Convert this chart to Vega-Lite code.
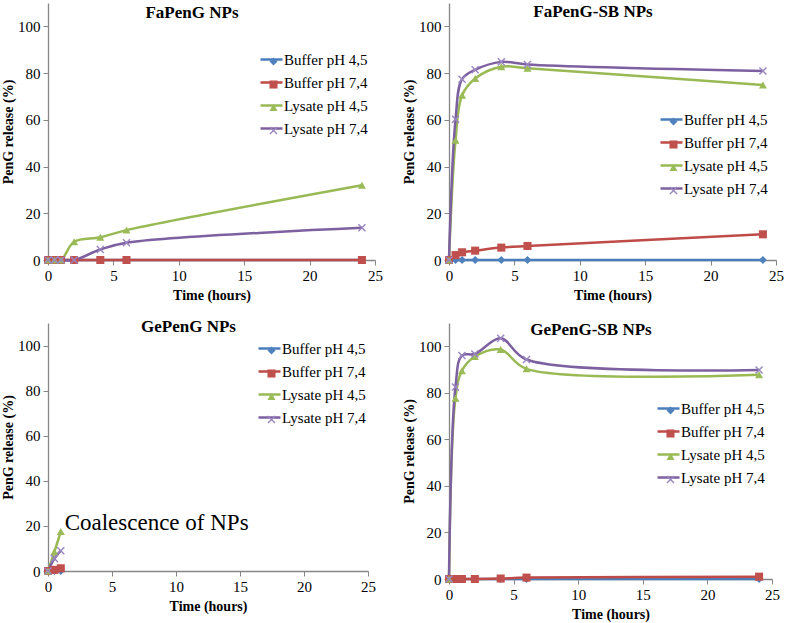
{
  "$schema": "https://vega.github.io/schema/vega-lite/v6.json",
  "padding": {"left": 1, "top": 3, "right": 0, "bottom": 1},
  "background": "white",
  "config": {
    "font": "Liberation Serif",
    "view": {"stroke": null},
    "axis": {"grid": false, "domainColor": "#868686", "tickColor": "#868686", "domainWidth": 1.3, "tickSize": 5,
      "labelFont": "Liberation Serif", "labelFontSize": 15, "labelColor": "#000", "labelPadding": 3,
      "titleFont": "Liberation Serif", "titleFontSize": 14, "titleFontWeight": "bold", "titleColor": "#000"},
    "axisY": {"titlePadding": 2, "labelFlush": false},
    "axisX": {"titlePadding": 5, "labelFlush": false},
    "title": {"font": "Liberation Serif", "fontSize": 17, "fontWeight": "bold", "color": "#000", "frame": "bounds", "anchor": "middle"},
    "legend": {"padding": 0, "labelFont": "Liberation Serif", "labelFontSize": 15, "labelColor": "#000", "title": null, "orient": "none", "labelOffset": 0}
  },
  "data": {"values": [
    {"panel": "FaPenG NPs", "series": "Buffer pH 4,5", "t": 0, "v": 0},
    {"panel": "FaPenG NPs", "series": "Buffer pH 4,5", "t": 0.5, "v": 0},
    {"panel": "FaPenG NPs", "series": "Buffer pH 4,5", "t": 1, "v": 0},
    {"panel": "FaPenG NPs", "series": "Buffer pH 4,5", "t": 2, "v": 0},
    {"panel": "FaPenG NPs", "series": "Buffer pH 4,5", "t": 4, "v": 0},
    {"panel": "FaPenG NPs", "series": "Buffer pH 4,5", "t": 6, "v": 0},
    {"panel": "FaPenG NPs", "series": "Buffer pH 4,5", "t": 24, "v": 0},
    {"panel": "FaPenG NPs", "series": "Buffer pH 7,4", "t": 0, "v": 0},
    {"panel": "FaPenG NPs", "series": "Buffer pH 7,4", "t": 0.5, "v": 0},
    {"panel": "FaPenG NPs", "series": "Buffer pH 7,4", "t": 1, "v": 0},
    {"panel": "FaPenG NPs", "series": "Buffer pH 7,4", "t": 2, "v": 0},
    {"panel": "FaPenG NPs", "series": "Buffer pH 7,4", "t": 4, "v": 0},
    {"panel": "FaPenG NPs", "series": "Buffer pH 7,4", "t": 6, "v": 0},
    {"panel": "FaPenG NPs", "series": "Buffer pH 7,4", "t": 24, "v": 0},
    {"panel": "FaPenG NPs", "series": "Lysate pH 4,5", "t": 0, "v": 0},
    {"panel": "FaPenG NPs", "series": "Lysate pH 4,5", "t": 0.5, "v": 0},
    {"panel": "FaPenG NPs", "series": "Lysate pH 4,5", "t": 1, "v": 0},
    {"panel": "FaPenG NPs", "series": "Lysate pH 4,5", "t": 2, "v": 7.8},
    {"panel": "FaPenG NPs", "series": "Lysate pH 4,5", "t": 4, "v": 9.7},
    {"panel": "FaPenG NPs", "series": "Lysate pH 4,5", "t": 6, "v": 12.8},
    {"panel": "FaPenG NPs", "series": "Lysate pH 4,5", "t": 24, "v": 32},
    {"panel": "FaPenG NPs", "series": "Lysate pH 7,4", "t": 0, "v": 0},
    {"panel": "FaPenG NPs", "series": "Lysate pH 7,4", "t": 0.5, "v": 0},
    {"panel": "FaPenG NPs", "series": "Lysate pH 7,4", "t": 1, "v": 0},
    {"panel": "FaPenG NPs", "series": "Lysate pH 7,4", "t": 2, "v": 0},
    {"panel": "FaPenG NPs", "series": "Lysate pH 7,4", "t": 4, "v": 4.5},
    {"panel": "FaPenG NPs", "series": "Lysate pH 7,4", "t": 6, "v": 7.4},
    {"panel": "FaPenG NPs", "series": "Lysate pH 7,4", "t": 24, "v": 13.8},

    {"panel": "FaPenG-SB NPs", "series": "Buffer pH 4,5", "t": 0, "v": 0},
    {"panel": "FaPenG-SB NPs", "series": "Buffer pH 4,5", "t": 0.5, "v": 0},
    {"panel": "FaPenG-SB NPs", "series": "Buffer pH 4,5", "t": 1, "v": 0},
    {"panel": "FaPenG-SB NPs", "series": "Buffer pH 4,5", "t": 2, "v": 0},
    {"panel": "FaPenG-SB NPs", "series": "Buffer pH 4,5", "t": 4, "v": 0},
    {"panel": "FaPenG-SB NPs", "series": "Buffer pH 4,5", "t": 6, "v": 0},
    {"panel": "FaPenG-SB NPs", "series": "Buffer pH 4,5", "t": 24, "v": 0},
    {"panel": "FaPenG-SB NPs", "series": "Buffer pH 7,4", "t": 0, "v": 0},
    {"panel": "FaPenG-SB NPs", "series": "Buffer pH 7,4", "t": 0.5, "v": 2.1},
    {"panel": "FaPenG-SB NPs", "series": "Buffer pH 7,4", "t": 1, "v": 3.3},
    {"panel": "FaPenG-SB NPs", "series": "Buffer pH 7,4", "t": 2, "v": 4.0},
    {"panel": "FaPenG-SB NPs", "series": "Buffer pH 7,4", "t": 4, "v": 5.3},
    {"panel": "FaPenG-SB NPs", "series": "Buffer pH 7,4", "t": 6, "v": 6.0},
    {"panel": "FaPenG-SB NPs", "series": "Buffer pH 7,4", "t": 24, "v": 11.0},
    {"panel": "FaPenG-SB NPs", "series": "Lysate pH 4,5", "t": 0, "v": 0},
    {"panel": "FaPenG-SB NPs", "series": "Lysate pH 4,5", "t": 0.5, "v": 51.3},
    {"panel": "FaPenG-SB NPs", "series": "Lysate pH 4,5", "t": 1, "v": 70.5},
    {"panel": "FaPenG-SB NPs", "series": "Lysate pH 4,5", "t": 2, "v": 77.7},
    {"panel": "FaPenG-SB NPs", "series": "Lysate pH 4,5", "t": 4, "v": 82.7},
    {"panel": "FaPenG-SB NPs", "series": "Lysate pH 4,5", "t": 6, "v": 82.1},
    {"panel": "FaPenG-SB NPs", "series": "Lysate pH 4,5", "t": 24, "v": 74.9},
    {"panel": "FaPenG-SB NPs", "series": "Lysate pH 7,4", "t": 0, "v": 0},
    {"panel": "FaPenG-SB NPs", "series": "Lysate pH 7,4", "t": 0.5, "v": 60.2},
    {"panel": "FaPenG-SB NPs", "series": "Lysate pH 7,4", "t": 1, "v": 77.4},
    {"panel": "FaPenG-SB NPs", "series": "Lysate pH 7,4", "t": 2, "v": 81.4},
    {"panel": "FaPenG-SB NPs", "series": "Lysate pH 7,4", "t": 4, "v": 84.8},
    {"panel": "FaPenG-SB NPs", "series": "Lysate pH 7,4", "t": 6, "v": 83.7},
    {"panel": "FaPenG-SB NPs", "series": "Lysate pH 7,4", "t": 24, "v": 80.9},

    {"panel": "GePenG NPs", "series": "Buffer pH 4,5", "t": 0, "v": 0},
    {"panel": "GePenG NPs", "series": "Buffer pH 4,5", "t": 0.5, "v": 0},
    {"panel": "GePenG NPs", "series": "Buffer pH 4,5", "t": 1, "v": 0},
    {"panel": "GePenG NPs", "series": "Buffer pH 7,4", "t": 0, "v": 0},
    {"panel": "GePenG NPs", "series": "Buffer pH 7,4", "t": 0.5, "v": 0.5},
    {"panel": "GePenG NPs", "series": "Buffer pH 7,4", "t": 1, "v": 1.2},
    {"panel": "GePenG NPs", "series": "Lysate pH 4,5", "t": 0, "v": 0},
    {"panel": "GePenG NPs", "series": "Lysate pH 4,5", "t": 0.5, "v": 8.5},
    {"panel": "GePenG NPs", "series": "Lysate pH 4,5", "t": 1, "v": 17.5},
    {"panel": "GePenG NPs", "series": "Lysate pH 7,4", "t": 0, "v": 0},
    {"panel": "GePenG NPs", "series": "Lysate pH 7,4", "t": 0.5, "v": 5.5},
    {"panel": "GePenG NPs", "series": "Lysate pH 7,4", "t": 1, "v": 9},

    {"panel": "GePenG-SB NPs", "series": "Buffer pH 4,5", "t": 0, "v": 0},
    {"panel": "GePenG-SB NPs", "series": "Buffer pH 4,5", "t": 0.5, "v": 0},
    {"panel": "GePenG-SB NPs", "series": "Buffer pH 4,5", "t": 1, "v": 0},
    {"panel": "GePenG-SB NPs", "series": "Buffer pH 4,5", "t": 2, "v": 0},
    {"panel": "GePenG-SB NPs", "series": "Buffer pH 4,5", "t": 4, "v": 0},
    {"panel": "GePenG-SB NPs", "series": "Buffer pH 4,5", "t": 6, "v": 0},
    {"panel": "GePenG-SB NPs", "series": "Buffer pH 4,5", "t": 24, "v": 0},
    {"panel": "GePenG-SB NPs", "series": "Buffer pH 7,4", "t": 0, "v": 0},
    {"panel": "GePenG-SB NPs", "series": "Buffer pH 7,4", "t": 0.5, "v": 0},
    {"panel": "GePenG-SB NPs", "series": "Buffer pH 7,4", "t": 1, "v": 0},
    {"panel": "GePenG-SB NPs", "series": "Buffer pH 7,4", "t": 2, "v": 0},
    {"panel": "GePenG-SB NPs", "series": "Buffer pH 7,4", "t": 4, "v": 0.2},
    {"panel": "GePenG-SB NPs", "series": "Buffer pH 7,4", "t": 6, "v": 0.6},
    {"panel": "GePenG-SB NPs", "series": "Buffer pH 7,4", "t": 24, "v": 1.0},
    {"panel": "GePenG-SB NPs", "series": "Lysate pH 4,5", "t": 0, "v": 0},
    {"panel": "GePenG-SB NPs", "series": "Lysate pH 4,5", "t": 0.5, "v": 77.7},
    {"panel": "GePenG-SB NPs", "series": "Lysate pH 4,5", "t": 1, "v": 89.5},
    {"panel": "GePenG-SB NPs", "series": "Lysate pH 4,5", "t": 2, "v": 95.6},
    {"panel": "GePenG-SB NPs", "series": "Lysate pH 4,5", "t": 4, "v": 98.6},
    {"panel": "GePenG-SB NPs", "series": "Lysate pH 4,5", "t": 6, "v": 90.3},
    {"panel": "GePenG-SB NPs", "series": "Lysate pH 4,5", "t": 24, "v": 87.8},
    {"panel": "GePenG-SB NPs", "series": "Lysate pH 7,4", "t": 0, "v": 0},
    {"panel": "GePenG-SB NPs", "series": "Lysate pH 7,4", "t": 0.5, "v": 82.5},
    {"panel": "GePenG-SB NPs", "series": "Lysate pH 7,4", "t": 1, "v": 96},
    {"panel": "GePenG-SB NPs", "series": "Lysate pH 7,4", "t": 2, "v": 96.7},
    {"panel": "GePenG-SB NPs", "series": "Lysate pH 7,4", "t": 4, "v": 103.4},
    {"panel": "GePenG-SB NPs", "series": "Lysate pH 7,4", "t": 6, "v": 94.3},
    {"panel": "GePenG-SB NPs", "series": "Lysate pH 7,4", "t": 24, "v": 89.8}
  ]},
  "columns": 2,
  "spacing": {"row": 16, "column": 19},
  "resolve": {
    "scale": {"x": "independent", "y": "independent", "stroke": "independent", "fill": "independent", "shape": "independent"},
    "legend": {"stroke": "independent", "fill": "independent", "shape": "independent"}
  },
  "concat": [
    {
      "width": 327, "height": 257,
      "title": {"text": "FaPenG NPs", "offset": -19},
      "transform": [{"filter": "datum.panel === 'FaPenG NPs'"}],
      "layer": [
        {"mark": {"type": "line", "interpolate": "catmull-rom", "strokeWidth": 2.5},
         "encoding": {
           "x": {"field": "t", "type": "quantitative", "scale": {"domain": [0, 25], "nice": false}, "axis": {"values": [0, 5, 10, 15, 20, 25], "title": "Time (hours)"}},
           "y": {"field": "v", "type": "quantitative", "scale": {"domain": [0, 110], "nice": false}, "axis": {"values": [0, 20, 40, 60, 80, 100], "title": "PenG release (%)"}},
           "stroke": {"field": "series", "type": "nominal",
             "scale": {"domain": ["Buffer pH 4,5", "Buffer pH 7,4", "Lysate pH 4,5", "Lysate pH 7,4"], "range": ["#4A7EBB", "#BE4B48", "#98B954", "#7D60A0"]},
             "legend": {"legendX": 211, "legendY": 44, "symbolType": "stroke", "symbolSize": 484, "symbolStrokeWidth": 2.5, "rowPadding": 2}}
         }},
        {"mark": {"type": "point", "filled": true, "opacity": 1, "size": 65},
         "encoding": {
           "x": {"field": "t", "type": "quantitative"},
           "y": {"field": "v", "type": "quantitative"},
           "fill": {"field": "series", "type": "nominal", "scale": {"range": ["#4F81BD", "#C0504D", "#9BBB59", "#9A86C0"]},
             "legend": {"legendX": 211, "legendY": 51, "symbolSize": 65, "symbolOffset": 7, "rowPadding": 7, "labelOpacity": 0, "labelExpr": "''"}},
           "shape": {"field": "series", "type": "nominal", "scale": {"range": ["diamond", "square", "triangle-up", "M-1,-0.75L-0.75,-1L0,-0.25L0.75,-1L1,-0.75L0.25,0L1,0.75L0.75,1L0,0.25L-0.75,1L-1,0.75L-0.25,0Z"]},
             "legend": {"legendX": 211, "legendY": 51, "symbolSize": 65, "symbolOffset": 7, "rowPadding": 7, "labelOpacity": 0, "labelExpr": "''"}}
         }}
      ]
    },
    {
      "width": 327, "height": 257,
      "title": {"text": "FaPenG-SB NPs", "offset": -18},
      "transform": [{"filter": "datum.panel === 'FaPenG-SB NPs'"}],
      "layer": [
        {"mark": {"type": "line", "interpolate": "catmull-rom", "strokeWidth": 2.5},
         "encoding": {
           "x": {"field": "t", "type": "quantitative", "scale": {"domain": [0, 25], "nice": false}, "axis": {"values": [0, 5, 10, 15, 20, 25], "title": "Time (hours)"}},
           "y": {"field": "v", "type": "quantitative", "scale": {"domain": [0, 110], "nice": false}, "axis": {"values": [0, 20, 40, 60, 80, 100], "title": "PenG release (%)"}},
           "stroke": {"field": "series", "type": "nominal",
             "scale": {"domain": ["Buffer pH 4,5", "Buffer pH 7,4", "Lysate pH 4,5", "Lysate pH 7,4"], "range": ["#4A7EBB", "#BE4B48", "#98B954", "#7D60A0"]},
             "legend": {"legendX": 210, "legendY": 104, "symbolType": "stroke", "symbolSize": 484, "symbolStrokeWidth": 2.5, "rowPadding": 2}}
         }},
        {"mark": {"type": "point", "filled": true, "opacity": 1, "size": 65},
         "encoding": {
           "x": {"field": "t", "type": "quantitative"},
           "y": {"field": "v", "type": "quantitative"},
           "fill": {"field": "series", "type": "nominal", "scale": {"range": ["#4F81BD", "#C0504D", "#9BBB59", "#9A86C0"]},
             "legend": {"legendX": 210, "legendY": 111, "symbolSize": 65, "symbolOffset": 7, "rowPadding": 7, "labelOpacity": 0, "labelExpr": "''"}},
           "shape": {"field": "series", "type": "nominal", "scale": {"range": ["diamond", "square", "triangle-up", "M-1,-0.75L-0.75,-1L0,-0.25L0.75,-1L1,-0.75L0.25,0L1,0.75L0.75,1L0,0.25L-0.75,1L-1,0.75L-0.25,0Z"]},
             "legend": {"legendX": 210, "legendY": 111, "symbolSize": 65, "symbolOffset": 7, "rowPadding": 7, "labelOpacity": 0, "labelExpr": "''"}}
         }}
      ]
    },
    {
      "width": 320, "height": 248,
      "title": {"text": "GePenG NPs", "offset": -13},
      "transform": [{"filter": "datum.panel === 'GePenG NPs'"}],
      "layer": [
        {"mark": {"type": "line", "interpolate": "catmull-rom", "strokeWidth": 2.5},
         "encoding": {
           "x": {"field": "t", "type": "quantitative", "scale": {"domain": [0, 25], "nice": false}, "axis": {"values": [0, 5, 10, 15, 20, 25], "title": "Time (hours)"}},
           "y": {"field": "v", "type": "quantitative", "scale": {"domain": [0, 110], "nice": false}, "axis": {"values": [0, 20, 40, 60, 80, 100], "title": "PenG release (%)"}},
           "stroke": {"field": "series", "type": "nominal",
             "scale": {"domain": ["Buffer pH 4,5", "Buffer pH 7,4", "Lysate pH 4,5", "Lysate pH 7,4"], "range": ["#4A7EBB", "#BE4B48", "#98B954", "#7D60A0"]},
             "legend": {"legendX": 209, "legendY": 13, "symbolType": "stroke", "symbolSize": 484, "symbolStrokeWidth": 2.5, "rowPadding": 2}}
         }},
        {"mark": {"type": "point", "filled": true, "opacity": 1, "size": 65},
         "encoding": {
           "x": {"field": "t", "type": "quantitative"},
           "y": {"field": "v", "type": "quantitative"},
           "fill": {"field": "series", "type": "nominal", "scale": {"range": ["#4F81BD", "#C0504D", "#9BBB59", "#9A86C0"]},
             "legend": {"legendX": 209, "legendY": 20, "symbolSize": 65, "symbolOffset": 7, "rowPadding": 7, "labelOpacity": 0, "labelExpr": "''"}},
           "shape": {"field": "series", "type": "nominal", "scale": {"range": ["diamond", "square", "triangle-up", "M-1,-0.75L-0.75,-1L0,-0.25L0.75,-1L1,-0.75L0.25,0L1,0.75L0.75,1L0,0.25L-0.75,1L-1,0.75L-0.25,0Z"]},
             "legend": {"legendX": 209, "legendY": 20, "symbolSize": 65, "symbolOffset": 7, "rowPadding": 7, "labelOpacity": 0, "labelExpr": "''"}}
         }},
        {"data": {"values": [{"t": 1.3, "v": 18.3, "note": "Coalescence of NPs"}]},
         "mark": {"type": "text", "align": "left", "baseline": "alphabetic", "font": "Liberation Serif", "fontSize": 23, "color": "#000"},
         "encoding": {
           "x": {"field": "t", "type": "quantitative"},
           "y": {"field": "v", "type": "quantitative"},
           "text": {"field": "note", "type": "nominal"}
         }}
      ]
    },
    {
      "width": 323, "height": 256,
      "title": {"text": "GePenG-SB NPs", "offset": -16},
      "transform": [{"filter": "datum.panel === 'GePenG-SB NPs'"}],
      "layer": [
        {"mark": {"type": "line", "interpolate": "catmull-rom", "strokeWidth": 2.5},
         "encoding": {
           "x": {"field": "t", "type": "quantitative", "scale": {"domain": [0, 25], "nice": false}, "axis": {"values": [0, 5, 10, 15, 20, 25], "title": "Time (hours)"}},
           "y": {"field": "v", "type": "quantitative", "scale": {"domain": [0, 110], "nice": false}, "axis": {"values": [0, 20, 40, 60, 80, 100], "title": "PenG release (%)"}},
           "stroke": {"field": "series", "type": "nominal",
             "scale": {"domain": ["Buffer pH 4,5", "Buffer pH 7,4", "Lysate pH 4,5", "Lysate pH 7,4"], "range": ["#4A7EBB", "#BE4B48", "#98B954", "#7D60A0"]},
             "legend": {"legendX": 207, "legendY": 73, "symbolType": "stroke", "symbolSize": 484, "symbolStrokeWidth": 2.5, "rowPadding": 2}}
         }},
        {"mark": {"type": "point", "filled": true, "opacity": 1, "size": 65},
         "encoding": {
           "x": {"field": "t", "type": "quantitative"},
           "y": {"field": "v", "type": "quantitative"},
           "fill": {"field": "series", "type": "nominal", "scale": {"range": ["#4F81BD", "#C0504D", "#9BBB59", "#9A86C0"]},
             "legend": {"legendX": 207, "legendY": 80, "symbolSize": 65, "symbolOffset": 7, "rowPadding": 7, "labelOpacity": 0, "labelExpr": "''"}},
           "shape": {"field": "series", "type": "nominal", "scale": {"range": ["diamond", "square", "triangle-up", "M-1,-0.75L-0.75,-1L0,-0.25L0.75,-1L1,-0.75L0.25,0L1,0.75L0.75,1L0,0.25L-0.75,1L-1,0.75L-0.25,0Z"]},
             "legend": {"legendX": 207, "legendY": 80, "symbolSize": 65, "symbolOffset": 7, "rowPadding": 7, "labelOpacity": 0, "labelExpr": "''"}}
         }}
      ]
    }
  ]
}
